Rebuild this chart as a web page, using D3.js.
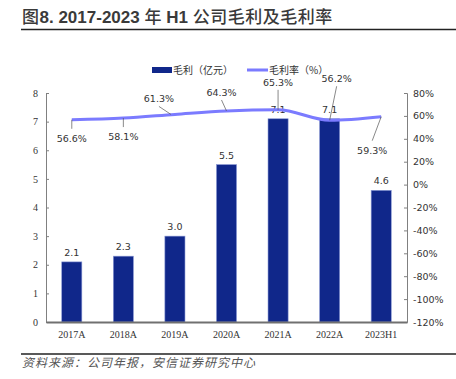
<!DOCTYPE html>
<html>
<head>
<meta charset="UTF-8"/>
<style>
	body { margin: 0; background: #fff; }
	svg { display: block; }
	.title { font-family: 'Liberation Sans', 'Noto Sans CJK SC', sans-serif; font-size: 17px; font-weight: 700; fill: #3a3a3a; }
	.title .cjk { font-family: 'Noto Sans CJK SC', sans-serif; font-weight: 500; letter-spacing: 0.5px; }
	.serif { font-family: 'Liberation Serif', 'Times New Roman', serif; font-size: 10px; fill: #333; }
	.sans { font-family: 'DejaVu Sans', 'Noto Sans CJK SC', sans-serif; font-size: 9.5px; fill: #333; }
	.legend { font-family: 'Noto Sans CJK SC', sans-serif; font-size: 10px; fill: #333; }
	.source { font-family: 'Noto Sans CJK SC', sans-serif; font-size: 12px; letter-spacing: 1px; fill: #555; font-style: italic; }
</style>
<script src="https://d3js.org/d3.v7.min.js"></script>
</head>
<body>
<svg width="456" height="379"></svg>
<script>
// data
const categories = ['2017A', '2018A', '2019A', '2020A', '2021A', '2022A', '2023H1'];
const grossProfit = [2.1, 2.3, 3.0, 5.5, 7.1, 7.1, 4.6];          // 亿元
const grossMargin = [56.6, 58.1, 61.3, 64.3, 65.3, 56.2, 59.3];    // %
const leftTicks = [0, 1, 2, 3, 4, 5, 6, 7, 8];
const rightTicks = [80, 60, 40, 20, 0, -20, -40, -60, -80, -100, -120];

// label offsets for the margin labels (dx, dy from the point)
const marginLabelPos = [[0, 22], [0, 22], [-16, -12], [-5, -15], [0, -24], [7, -38], [-9, 37]];

const barColor = '#10278a';
const lineColor = '#7b7bff';
const axisColor = '#808080';

const svg = d3.select('svg');

// title + rules
const title = svg.append('text').attr('class', 'title').attr('x', 22).attr('y', 23);
title.append('tspan').text('图').attr('class', 'cjk');
title.append('tspan').text('8. 2017-2023 ');
title.append('tspan').text('年 ').attr('class', 'cjk');
title.append('tspan').text('H1 ');
title.append('tspan').text('公司毛利及毛利率').attr('class', 'cjk');
svg.append('line').attr('x1', 21).attr('x2', 456).attr('y1', 29.5).attr('y2', 29.5)
	.attr('stroke', '#222').attr('stroke-width', 1.5);
svg.append('line').attr('x1', 21).attr('x2', 456).attr('y1', 354).attr('y2', 354)
	.attr('stroke', '#222').attr('stroke-width', 1.5);
svg.append('text').attr('class', 'source').attr('x', 22).attr('y', 367)
	.text('资料来源：公司年报，安信证券研究中心');

// scales
const x = d3.scaleBand().domain(categories).range([46, 407]).paddingInner(0.61).paddingOuter(0.305);
const xc = d3.scalePoint().domain(categories).range([46, 407]).padding(0.5);
const yL = d3.scaleLinear().domain([0, 8]).range([322, 93]);
const yR = d3.scaleLinear().domain([-120, 80]).range([322, 93]);

// left axis
const gL = svg.append('g').attr('transform', 'translate(46,0)')
	.call(d3.axisLeft(yL).tickValues(leftTicks).tickSize(-3).tickPadding(8).tickFormat(d3.format('d')));
gL.selectAll('text').attr('class', 'serif').attr('font-family', null).attr('font-size', null);

// right axis
const gR = svg.append('g').attr('transform', 'translate(407,0)')
	.call(d3.axisRight(yR).tickValues(rightTicks).tickSize(-3).tickPadding(6).tickFormat(d => d + '%'));
gR.selectAll('text').attr('class', 'sans').attr('font-family', null).attr('font-size', null);

[gL, gR].forEach(g => {
	g.select('.domain').attr('stroke', axisColor);
	g.selectAll('.tick line').attr('stroke', axisColor);
});

// bars
svg.append('g').selectAll('rect')
	.data(grossProfit)
	.join('rect')
	.attr('x', (d, i) => x(categories[i]))
	.attr('y', d => yL(d))
	.attr('width', x.bandwidth())
	.attr('height', d => yL(0) - yL(d))
	.attr('fill', barColor)
	.attr('stroke', '#8c9ad6')
	.attr('stroke-width', 0.6);

// bottom axis
const gB = svg.append('g').attr('transform', 'translate(0,322)')
	.call(d3.axisBottom(x).tickSize(0).tickPadding(9));
gB.select('.domain').attr('stroke', '#707070').attr('stroke-width', 2);
gB.selectAll('text').attr('class', 'serif').attr('font-family', null).attr('font-size', null);

// bar value labels
svg.append('g').selectAll('text')
	.data(grossProfit)
	.join('text')
	.attr('class', 'sans')
	.attr('text-anchor', 'middle')
	.attr('x', (d, i) => xc(categories[i]))
	.attr('y', d => yL(d) - 6)
	.text(d => d.toFixed(1));

// margin line
const line = d3.line()
	.x((d, i) => xc(categories[i]))
	.y(d => yR(d))
	.curve(d3.curveMonotoneX);
svg.append('path')
	.datum(grossMargin)
	.attr('d', line)
	.attr('fill', 'none')
	.attr('stroke', lineColor)
	.attr('stroke-width', 3);

// margin labels with leader lines
const ml = svg.append('g').selectAll('g')
	.data(grossMargin)
	.join('g');
ml.append('line')
	.attr('x1', (d, i) => xc(categories[i]) + (i === 2 ? -4 : 0))
	.attr('y1', d => yR(d))
	.attr('x2', (d, i) => xc(categories[i]) + marginLabelPos[i][0])
	.attr('y2', (d, i) => yR(d) + marginLabelPos[i][1] + (marginLabelPos[i][1] > 0 ? -13 : 4))
	.attr('stroke', '#555')
	.attr('stroke-width', 0.7);
ml.append('text')
	.attr('class', 'sans')
	.attr('text-anchor', 'middle')
	.attr('x', (d, i) => xc(categories[i]) + marginLabelPos[i][0])
	.attr('y', (d, i) => yR(d) + marginLabelPos[i][1])
	.text(d => d.toFixed(1) + '%');

// legend
const lg = svg.append('g');
lg.append('rect').attr('x', 152).attr('y', 67).attr('width', 20).attr('height', 6).attr('fill', barColor);
lg.append('text').attr('class', 'legend').attr('x', 173).attr('y', 74).text('毛利（亿元）');
lg.append('line').attr('x1', 247).attr('x2', 268).attr('y1', 70).attr('y2', 70)
	.attr('stroke', lineColor).attr('stroke-width', 3);
lg.append('text').attr('class', 'legend').attr('x', 269).attr('y', 74).text('毛利率（%）');
</script>
</body>
</html>
